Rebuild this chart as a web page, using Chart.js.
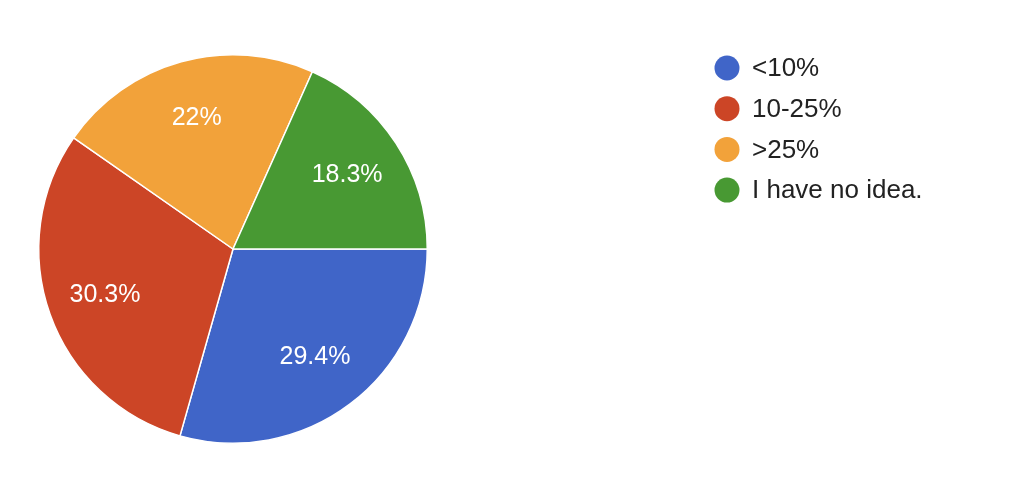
<!DOCTYPE html>
<html>
<head>
<meta charset="utf-8">
<script src="https://cdn.jsdelivr.net/npm/chart.js@4"></script>
<style>
  html, body { margin: 0; padding: 0; background: #fff; }
  #wrap { width: 1024px; height: 480px; }
</style>
</head>
<body>
<div id="wrap"><canvas id="myChart" width="1024" height="480"></canvas></div>
<script>
const categorias = ['<10%', '10-25%', '>25%', 'I have no idea.'];
const porcentajes = [29.4, 30.3, 22, 18.3];
const etiquetas = ['29.4%', '30.3%', '22%', '18.3%'];
const colores = ['#4065c8', '#cc4526', '#f2a23a', '#489933'];

const fuente = '"Liberation Sans", Arial, Helvetica, sans-serif';

// porcentajes dentro de cada porcion
const etiquetasPorcion = {
  id: 'etiquetasPorcion',
  afterDatasetsDraw(chart) {
    const ctx = chart.ctx;
    const meta = chart.getDatasetMeta(0);
    ctx.save();
    ctx.fillStyle = '#ffffff';
    ctx.font = '25px ' + fuente;
    ctx.textAlign = 'center';
    ctx.textBaseline = 'middle';
    meta.data.forEach((arc, i) => {
      const p = arc.getProps(['x', 'y', 'startAngle', 'endAngle', 'outerRadius'], true);
      const medio = (p.startAngle + p.endAngle) / 2;
      const r = p.outerRadius * 0.7;
      ctx.fillText(etiquetas[i], p.x + Math.cos(medio) * r, p.y + Math.sin(medio) * r);
    });
    ctx.restore();
  }
};

// leyenda a la derecha con circulos
const leyendaCirculos = {
  id: 'leyendaCirculos',
  afterDraw(chart) {
    const ctx = chart.ctx;
    ctx.save();
    ctx.font = '26px ' + fuente;
    ctx.textBaseline = 'middle';
    ctx.textAlign = 'left';
    categorias.forEach((cat, i) => {
      const y = 68 + i * 40.7;
      ctx.beginPath();
      ctx.arc(727, y, 12.5, 0, Math.PI * 2);
      ctx.fillStyle = colores[i];
      ctx.fill();
      ctx.fillStyle = '#222222';
      ctx.fillText(cat, 752, y + 1);
    });
    ctx.restore();
  }
};

const config = {
  type: 'pie',
  data: {
    labels: categorias,
    datasets: [{
      data: porcentajes,
      backgroundColor: colores,
      borderColor: '#ffffff',
      borderWidth: 1.5
    }]
  },
  options: {
    responsive: false,
    animation: false,
    rotation: 90,
    layout: {
      padding: { left: 38, top: 54, right: 596, bottom: 36 }
    },
    plugins: {
      legend: { display: false },
      tooltip: { enabled: false }
    }
  },
  plugins: [etiquetasPorcion, leyendaCirculos]
};

new Chart(document.getElementById('myChart'), config);
</script>
</body>
</html>
